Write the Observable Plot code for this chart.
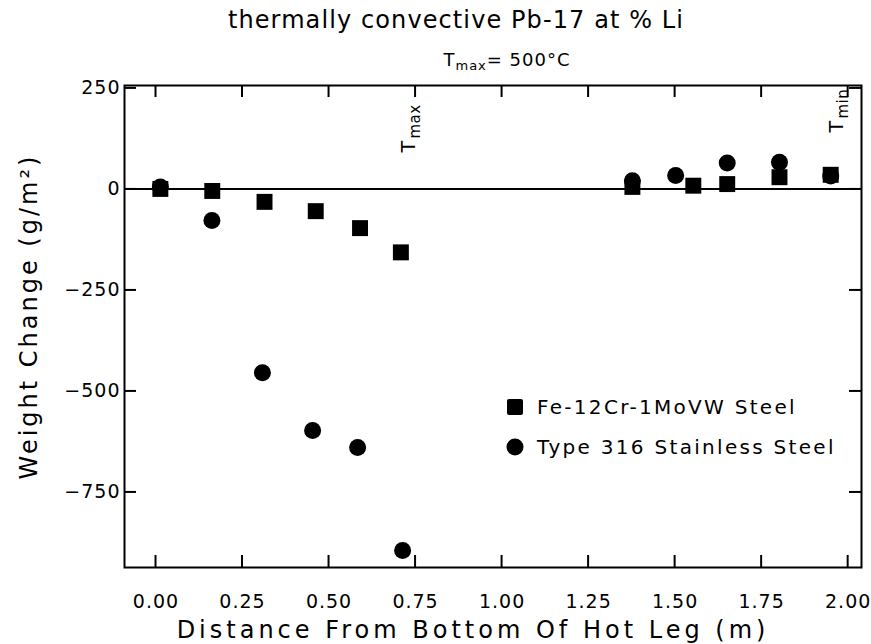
<!DOCTYPE html>
<html><head><meta charset="utf-8">
<script src="https://cdn.jsdelivr.net/npm/d3@7"></script>
<script src="https://cdn.jsdelivr.net/npm/@observablehq/plot@0.6"></script>
<style>
body{margin:0;background:#fff;}
#wrap{position:relative;width:871px;height:644px;font-family:"DejaVu Sans",sans-serif;color:#000;}
#title{position:absolute;left:456px;top:5px;transform:translateX(-50%);white-space:nowrap;font-size:24px;line-height:30px;letter-spacing:1.1px;}
#subtitle{position:absolute;left:507px;top:49px;transform:translateX(-50%);white-space:nowrap;font-size:18px;line-height:22px;letter-spacing:1px;}
#subtitle sub{font-size:13px;vertical-align:-4px;}
.lg{position:absolute;left:506px;display:flex;align-items:center;font-size:20px;letter-spacing:2.3px;white-space:nowrap;}
.lg svg{margin-right:13px;}
</style></head><body>
<div id="wrap">
<div id="chart"></div>
<div id="title">thermally convective Pb-17 at % Li</div>
<div id="subtitle">T<sub>max</sub>= 500°C</div>
<div id="legend"></div>
</div>
<script>
// ---- data ----
const feDist   = [0.014, 0.164, 0.315, 0.463, 0.591, 0.709, 1.378, 1.554, 1.652, 1.803, 1.951];
const feChange = [0, -5, -32, -55, -97, -157, 5, 8, 12, 29, 35];
const ssDist   = [0.014, 0.163, 0.309, 0.454, 0.584, 0.714, 1.378, 1.503, 1.652, 1.803, 1.951];
const ssChange = [5, -78, -455, -598, -640, -895, 20, 33, 64, 66, 32];
const seriesNames = ["Fe-12Cr-1MoVW Steel", "Type 316 Stainless Steel"];
const xTicks = [0, 0.25, 0.5, 0.75, 1.0, 1.25, 1.5, 1.75, 2.0];
const yTicks = [250, 0, -250, -500, -750];
const tempLabels = [
  {pos: 0.75, sub: "max", dyT: 67, dySub: 53, dxT: -14, dxSub: -6},
  {pos: 2.0, sub: "min", dyT: 47, dySub: 33, dxT: -18, dxSub: -10}
];
const xLabel = "Distance From Bottom Of Hot Leg (m)";
const yLabel = "Weight Change (g/m²)";

const fe = feDist.map((d, i) => ({x: d, y: feChange[i]}));
const ss = ssDist.map((d, i) => ({x: d, y: ssChange[i]}));

const W = 871, H = 644, mL = 124, mR = 10, mT = 85, mB = 77;
const fw = W - mL - mR, fh = H - mT - mB, tl = 12;
const fmtX = d => d3.format(".2f")(d);
const fmtY = d => String(d).replace("-", "\u2212");

const chart = Plot.plot({
  width: W, height: H, marginLeft: mL, marginRight: mR, marginTop: mT, marginBottom: mB,
  x: {domain: [-0.0896, 2.04], axis: null},
  y: {domain: [-937, 256], axis: null},
  style: {fontFamily: "DejaVu Sans, sans-serif", background: "white", color: "black"},
  marks: [
    Plot.ruleY([0], {stroke: "black", strokeWidth: 2}),
    Plot.ruleX(xTicks, {x: d => d, insetBottom: fh - tl, stroke: "black", strokeWidth: 2}),
    Plot.ruleX(xTicks, {x: d => d, insetTop: fh - tl, stroke: "black", strokeWidth: 2}),
    Plot.ruleY(yTicks, {y: d => d, insetRight: fw - tl, stroke: "black", strokeWidth: 2}),
    Plot.ruleY(yTicks, {y: d => d, insetLeft: fw - tl, stroke: "black", strokeWidth: 2}),
    Plot.frame({stroke: "black", strokeWidth: 2}),
    Plot.text(xTicks, {x: d => d, frameAnchor: "bottom", dy: 40, dx: 0.5, text: fmtX, fontSize: 19, fill: "black"}),
    Plot.text(yTicks, {y: d => d, frameAnchor: "left", dx: -4, textAnchor: "end", text: fmtY, fontSize: 19, fill: "black"}),
    Plot.text([xLabel], {frameAnchor: "bottom", dy: 70, dx: -20, text: d => d, fontSize: 24, fill: "black"}),
    Plot.text([yLabel], {frameAnchor: "left", dx: -95, dy: -10, rotate: -90, textAnchor: "middle", text: d => d, fontSize: 24, fill: "black"}),
    ...tempLabels.map(t => Plot.text([t], {x: "pos", frameAnchor: "top", dy: t.dyT, dx: t.dxT, rotate: -90, textAnchor: "start", text: () => "T", fontSize: 19, fill: "black"})),
    ...tempLabels.map(t => Plot.text([t], {x: "pos", frameAnchor: "top", dy: t.dySub, dx: t.dxSub, rotate: -90, textAnchor: "start", text: d => d.sub, fontSize: 15, fill: "black"})),
    Plot.dot(ss, {x: "x", y: "y", symbol: "circle", r: 8.5, fill: "black", stroke: "none"}),
    Plot.dot(fe, {x: "x", y: "y", symbol: "square", r: 9, fill: "black", stroke: "none"})
  ]
});

// plotter-style letter spacing
const spacing = new Map([[xLabel, 4], [yLabel, 3]]);
xTicks.forEach(d => spacing.set(fmtX(d), 1));
yTicks.forEach(d => spacing.set(fmtY(d), 1));
["T", "max", "min"].forEach(s => spacing.set(s, 0.5));
chart.querySelectorAll("text").forEach(t => {
  const s = spacing.get(t.textContent);
  if (s != null) t.setAttribute("letter-spacing", s);
});
document.getElementById("chart").appendChild(chart);

// legend
const lg = document.getElementById("legend");
const sq = '<svg width="18" height="18"><rect x="1" y="1" width="16" height="16" rx="2" fill="black"/></svg>';
const ci = '<svg width="18" height="18"><circle cx="9" cy="9" r="8.5" fill="black"/></svg>';
[[sq, 395], [ci, 435]].forEach(([s, top], i) => {
  const d = document.createElement("div");
  d.className = "lg";
  d.style.top = top + "px";
  d.innerHTML = s + "<span>" + seriesNames[i] + "</span>";
  lg.appendChild(d);
});
</script>
</body></html>
